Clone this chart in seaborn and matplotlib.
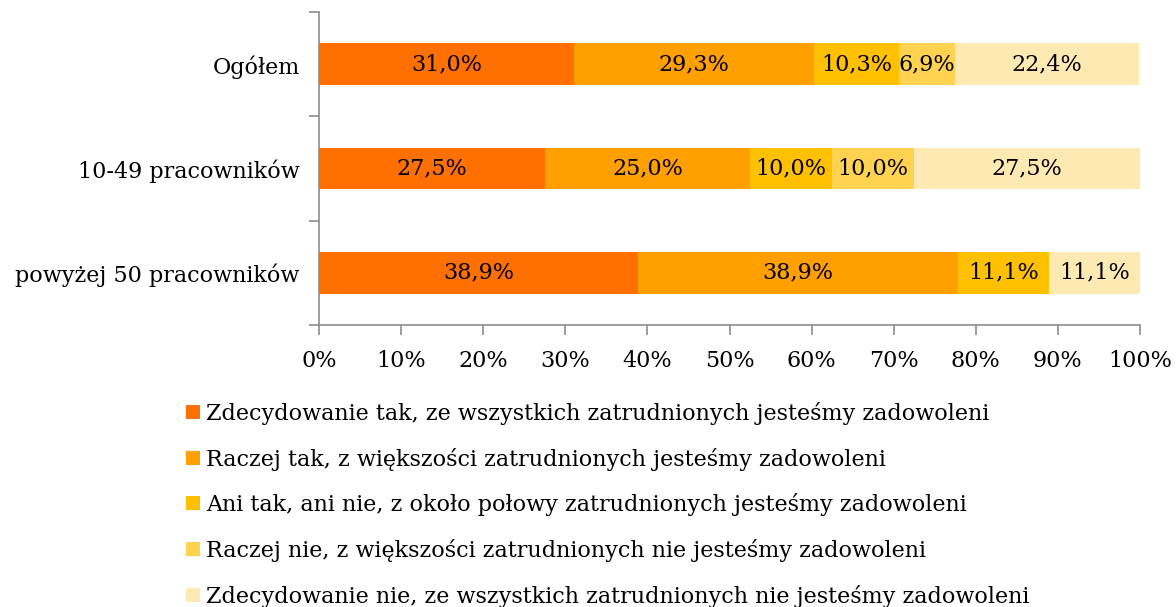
import numpy as np
import pandas as pd
import matplotlib
matplotlib.use("Agg")
import matplotlib.pyplot as plt
import seaborn as sns
from matplotlib.patches import Patch
from matplotlib.ticker import FixedLocator

categories = ["Ogółem", "10-49 pracowników", "powyżej 50 pracowników"]
series_names = [
    "Zdecydowanie tak, ze wszystkich zatrudnionych jesteśmy zadowoleni",
    "Raczej tak, z większości zatrudnionych jesteśmy zadowoleni",
    "Ani tak, ani nie, z około połowy zatrudnionych jesteśmy zadowoleni",
    "Raczej nie, z większości zatrudnionych nie jesteśmy zadowoleni",
    "Zdecydowanie nie, ze wszystkich zatrudnionych nie jesteśmy zadowoleni",
]
zdecydowanie_tak = [31.0, 27.5, 38.9]
raczej_tak = [29.3, 25.0, 38.9]
ani_tak_ani_nie = [10.3, 10.0, 11.1]
raczej_nie = [6.9, 10.0, 0.0]
zdecydowanie_nie = [22.4, 27.5, 11.1]
x_ticks = [0, 10, 20, 30, 40, 50, 60, 70, 80, 90, 100]

colors = ["#FF7000", "#FF9F00", "#FFC000", "#FFD34F", "#FFE9B3"]

sns.set_theme(style="white")
plt.rcParams["font.family"] = ["DejaVu Serif"]
plt.rcParams["text.color"] = "black"
plt.rcParams["xtick.color"] = "black"
plt.rcParams["ytick.color"] = "black"

values = np.array([zdecydowanie_tak, raczej_tak, ani_tak_ani_nie,
                   raczej_nie, zdecydowanie_nie])
cumulative = np.cumsum(values, axis=0)

fig = plt.figure(figsize=(11.76, 6.07), dpi=100)
ax = fig.add_axes([0.2713, 0.4646, 0.6981, 0.5154])

# stacked bars: draw running totals from the widest down
for i in reversed(range(len(series_names))):
    df = pd.DataFrame({"kategoria": categories, "wartosc": cumulative[i]})
    sns.barplot(data=df, x="wartosc", y="kategoria", orient="h",
                color=colors[i], saturation=1, width=0.4, linewidth=0,
                ax=ax)

# value labels in the middle of each segment
for i in range(len(series_names)):
    for j in range(len(categories)):
        v = values[i, j]
        if v <= 0:
            continue
        center = cumulative[i, j] - v / 2
        ax.text(center, j, f"{v:.1f}%".replace(".", ","),
                ha="center", va="center", fontsize=16, color="black")

ax.set_xlim(0, 100)
ax.set_ylim(2.5, -0.5)
ax.xaxis.set_major_locator(FixedLocator(x_ticks))
ax.set_xticklabels([f"{t}%" for t in x_ticks], fontsize=16, color="black")
ax.set_yticks(range(len(categories)))
ax.set_yticklabels(categories, fontsize=16, color="black")
ax.set_yticks([-0.5, 0.5, 1.5, 2.5], minor=True)
ax.tick_params(axis="y", which="major", length=0, pad=14)
ax.tick_params(axis="y", which="minor", left=True, length=7, width=1.2,
               color="#8c8c8c", direction="out")
ax.tick_params(axis="x", which="major", bottom=True, length=7, width=1.2,
               color="#8c8c8c", direction="out", pad=11)
ax.set_xlabel("")
ax.set_ylabel("")

for side in ["top", "right"]:
    ax.spines[side].set_visible(False)
for side in ["left", "bottom"]:
    ax.spines[side].set_color("#8c8c8c")
    ax.spines[side].set_linewidth(1.2)

handles = [Patch(facecolor=c, edgecolor="none") for c in colors]
fig.legend(handles, series_names, loc="upper left",
           bbox_to_anchor=(0.1585, 0.338), frameon=False, fontsize=16,
           labelcolor="black",
           handlelength=0.6, handleheight=0.6, handletextpad=0.3,
           labelspacing=1.02, borderpad=0, borderaxespad=0)

fig.savefig("out.png", dpi=100)
